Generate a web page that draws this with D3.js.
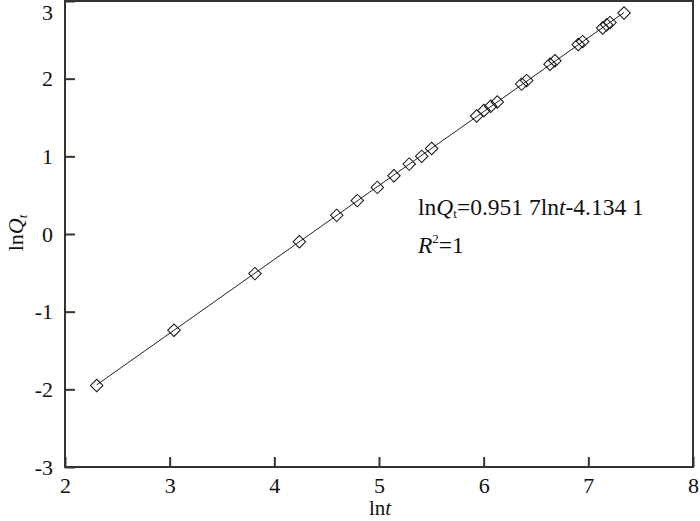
<!doctype html>
<html lang="en">
<head>
  <meta charset="utf-8">
  <title>lnQt vs lnt</title>
  <script src="https://cdn.jsdelivr.net/npm/d3@7"></script>
</head>
<body style="margin:0;background:#fff">
<style>
.chart text {
  font-family: "Liberation Serif", "Times New Roman", serif;
  fill: #111;
}
.chart .tick line { stroke: #333; stroke-width: 2px; }
</style>
<svg class="chart"></svg>
<script>
// ln t (x) and ln Qt (y)
var lnT = [2.303, 3.041, 3.815, 4.239, 4.596, 4.793, 4.984, 5.143, 5.289, 5.408, 5.503,
           5.933, 6.003, 6.067, 6.130, 6.363, 6.411, 6.634, 6.681, 6.904, 6.946,
           7.137, 7.175, 7.207, 7.341];
var lnQ = [-1.95, -1.24, -0.51, -0.10, 0.24, 0.43, 0.60, 0.75, 0.90, 1.00, 1.10,
           1.52, 1.59, 1.645, 1.70, 1.93, 1.975, 2.185, 2.23, 2.44, 2.477,
           2.652, 2.693, 2.722, 2.846];
var xTicks = [2, 3, 4, 5, 6, 7, 8];
var yTicks = [-3, -2, -1, 0, 1, 2, 3];
// fitted line from the annotation
var slope = 0.9517, intercept = -4.1341;

var width = 700, height = 521;
var padL = 65, padR = 693, padT = 1, padB = 467;

var svg = d3.select(".chart").attr("width", width).attr("height", height);

var x = d3.scaleLinear().domain([2, 8]).range([padL, padR]);
var y = d3.scaleLinear().domain([-3, 3]).range([padB, padT]);

svg.append("g")
    .attr("transform", "translate(0," + padB + ")")
    .call(d3.axisBottom(x).tickValues(xTicks).tickSizeInner(-10).tickSizeOuter(0).tickPadding(10)
      .tickFormat(d3.format("d")));
var yAxis = svg.append("g")
    .attr("transform", "translate(" + padL + ",0)")
    .call(d3.axisLeft(y).tickValues(yTicks).tickSizeInner(-10).tickSizeOuter(0).tickPadding(12)
      .tickFormat(function(d) { return d < 0 ? "-" + Math.abs(d) : d; }));
svg.selectAll(".domain").remove();
svg.selectAll(".tick text").style("font-size", "22px");
// top label sits lower so it is not cut off
yAxis.selectAll(".tick text").filter(function(d) { return d === 3; }).attr("dy", "0.85em");

// frame
svg.append("rect")
    .attr("x", padL).attr("y", padT)
    .attr("width", padR - padL).attr("height", padB - padT)
    .attr("fill", "none").attr("stroke", "#333").attr("stroke-width", 2);

// fit line
var xs = d3.extent(lnT);
svg.append("path")
    .datum(xs)
    .attr("fill", "none")
    .attr("stroke", "#222")
    .attr("stroke-width", 1)
    .attr("d", d3.line().x(function(d) { return x(d); }).y(function(d) { return y(slope * d + intercept); }));

// diamond markers
var diamond = d3.symbol().type(d3.symbolSquare).size(78);
svg.append("g").selectAll("path")
    .data(lnT)
  .enter().append("path")
    .attr("d", diamond)
    .attr("transform", function(d, i) { return "translate(" + x(d) + "," + y(lnQ[i]) + ") rotate(45)"; })
    .attr("fill", "none")
    .attr("stroke", "#111")
    .attr("stroke-width", 1);

// axis titles
var xt = svg.append("text")
    .attr("x", 380).attr("y", 515)
    .attr("text-anchor", "middle").style("font-size", "21px");
xt.append("tspan").text("ln");
xt.append("tspan").style("font-style", "italic").text("t");

var yt = svg.append("text")
    .attr("transform", "translate(23,233) rotate(-90)")
    .attr("text-anchor", "middle").style("font-size", "22px");
yt.append("tspan").text("ln");
yt.append("tspan").style("font-style", "italic").text("Q");
yt.append("tspan").style("font-style", "italic").style("font-size", "13px").attr("dy", 4).text("t");

// equation
var eq = svg.append("text").attr("x", 418).attr("y", 215).style("font-size", "23.5px");
eq.append("tspan").text("ln");
eq.append("tspan").style("font-style", "italic").text("Q");
eq.append("tspan").style("font-size", "13px").attr("dy", 3).text("t");
eq.append("tspan").attr("dy", -3).text("=0.951 7ln");
eq.append("tspan").style("font-style", "italic").text("t");
eq.append("tspan").text("-4.134 1");

var r2 = svg.append("text").attr("x", 418).attr("y", 253).style("font-size", "23.5px");
r2.append("tspan").style("font-style", "italic").text("R");
r2.append("tspan").style("font-size", "13px").attr("dy", -10).text("2");
r2.append("tspan").attr("dy", 10).text("=1");
</script>
</body>
</html>
